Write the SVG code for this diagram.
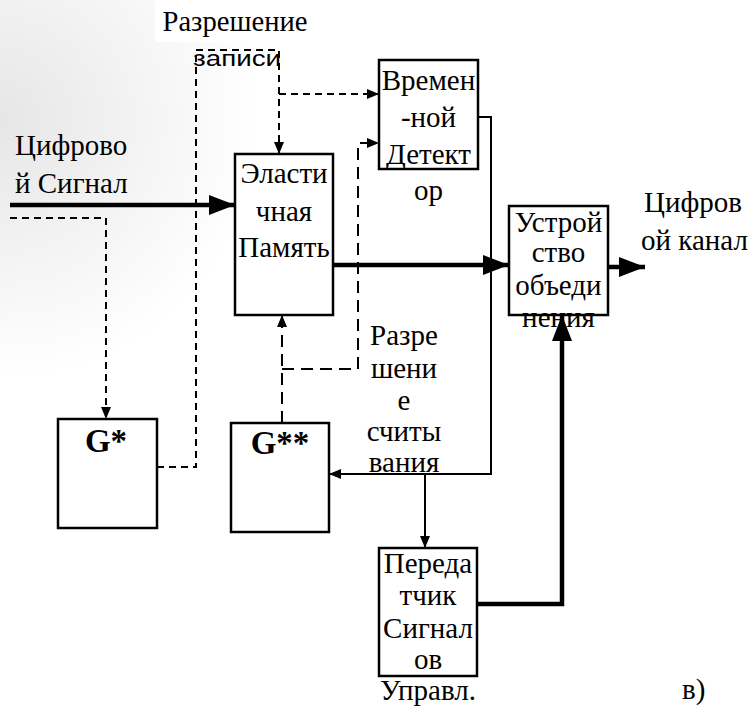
<svg xmlns="http://www.w3.org/2000/svg" width="752" height="708" viewBox="0 0 752 708">
<defs>
<radialGradient id="bg" cx="0" cy="120" r="260" gradientUnits="userSpaceOnUse">
<stop offset="0" stop-color="#e6e6e6"/>
<stop offset="1" stop-color="#ffffff"/>
</radialGradient>
<marker id="ah" markerUnits="userSpaceOnUse" markerWidth="12" markerHeight="10" refX="12" refY="5" orient="auto">
<path d="M0,0 L12,5 L0,10 z" fill="#000"/>
</marker>
<marker id="AH" markerUnits="userSpaceOnUse" markerWidth="26" markerHeight="20" refX="26" refY="10" orient="auto">
<path d="M0,0 L26,10 L0,20 z" fill="#000"/>
</marker>
</defs>
<style>
.box{fill:#fff;stroke:#000;stroke-width:2.5}
.t{font-family:'Liberation Serif','Times New Roman',serif;font-size:29px;fill:#000}
.tm{text-anchor:middle}
.g{font-family:'Liberation Serif','Times New Roman',serif;font-size:33px;font-weight:bold;text-anchor:middle}
.s{font-family:'Liberation Sans',Arial,sans-serif;fill:#000}
.thin{fill:none;stroke:#000;stroke-width:2}
.thick{fill:none;stroke:#000;stroke-width:4.5}
.ds{fill:none;stroke:#000;stroke-width:2;stroke-dasharray:7 5}
.dl{fill:none;stroke:#000;stroke-width:2;stroke-dasharray:12 7}
</style>
<rect x="0" y="0" width="752" height="708" fill="#fff"/>
<rect x="0" y="0" width="260" height="400" fill="url(#bg)"/>
<rect x="155" y="0" width="160" height="42" fill="#fff"/>

<g id="connectors">
<path class="thick" d="M10,205 H235" marker-end="url(#AH)"/>
<path class="ds" d="M10,218 H106 V419" marker-end="url(#ah)"/>
<path class="ds" d="M157,467 H196 V50 H279 V154" marker-end="url(#ah)"/>
<path class="ds" d="M279,94 H379" marker-end="url(#ah)"/>
<path class="thick" d="M333,265 H509" marker-end="url(#AH)"/>
<path class="dl" d="M282,423 V315" marker-end="url(#ah)"/>
<path class="dl" d="M282,369 H358 V143 H379" marker-end="url(#ah)"/>
<path class="thin" d="M478,117 H491 V474 H329" marker-end="url(#ah)"/>
<path class="thin" d="M425,474 V548" marker-end="url(#ah)"/>
<path class="thick" d="M477,604 H562 V315" marker-end="url(#AH)"/>
<path class="thick" d="M608,267 H645" marker-end="url(#AH)"/>
</g>

<g id="label-write">
<text class="t" x="235" y="31" font-size="25" text-anchor="middle" textLength="145" lengthAdjust="spacingAndGlyphs">Разрешение</text>
<text class="s" x="237" y="66" font-size="22" text-anchor="middle" textLength="88" lengthAdjust="spacingAndGlyphs">записи</text>
</g>

<g id="label-input">
<text class="t" x="15" y="155" font-size="26">Цифрово</text>
<text class="t" x="15" y="193" font-size="26">й Сигнал</text>
</g>

<g id="label-output">
<text class="t" x="644" y="212">Цифров</text>
<text class="t" x="641" y="250">ой канал</text>
</g>

<g id="elastic-memory">
<rect class="box" x="235" y="154" width="98" height="161"/>
<text class="t tm" x="284" y="183">Эласти</text>
<text class="t tm" x="284" y="221">чная</text>
<text class="t tm" x="284" y="257">Память</text>
</g>

<g id="time-detector">
<rect class="box" x="379" y="60" width="99" height="109"/>
<text class="t tm" x="428.5" y="90">Времен</text>
<text class="t tm" x="428.5" y="127">-ной</text>
<text class="t tm" x="428.5" y="164">Детект</text>
<text class="t tm" x="428.5" y="200">ор</text>
</g>

<g id="combiner">
<rect class="box" x="509" y="206" width="99" height="109"/>
<text class="t tm" x="558.5" y="232">Устрой</text>
<text class="t tm" x="558.5" y="262">ство</text>
<text class="t tm" x="558.5" y="295">объеди</text>
<text class="t tm" x="558.5" y="327">нения</text>
</g>

<g id="g-star">
<rect class="box" x="58" y="419" width="99" height="109"/>
<text class="g" x="106" y="452">G*</text>
</g>

<g id="g-double-star">
<rect class="box" x="231" y="423" width="98" height="109"/>
<text class="g" x="280" y="454">G**</text>
</g>

<g id="label-read">
<text class="t tm" x="404" y="345">Разре</text>
<text class="t tm" x="404" y="378">шени</text>
<text class="t tm" x="404" y="410">е</text>
<text class="t tm" x="404" y="441">считы</text>
<text class="t tm" x="404" y="472">вания</text>
</g>

<g id="transmitter">
<rect class="box" x="379" y="548" width="98" height="128"/>
<text class="t tm" x="428" y="573">Переда</text>
<text class="t tm" x="428" y="605">тчик</text>
<text class="t tm" x="428" y="638">Сигнал</text>
<text class="t tm" x="428" y="669">ов</text>
<text class="t tm" x="428" y="700">Управл.</text>
</g>

<g id="caption">
<text class="t" x="682" y="699" font-size="28">в)</text>
</g>
</svg>
